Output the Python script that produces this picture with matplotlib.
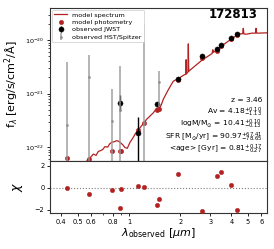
import numpy as np
import matplotlib
matplotlib.use("Agg")
import matplotlib.pyplot as plt
from matplotlib.ticker import FixedLocator, FixedFormatter, NullFormatter

# ---------------- data ----------------
# model spectrum (observed wavelength in micron, f_lambda)
spec_wave = [0.50, 0.568, 0.59, 0.617, 0.64, 0.66, 0.675, 0.70, 0.722, 0.75, 0.77, 0.791, 0.82,
             0.846, 0.87, 0.885, 0.92, 0.947, 0.977, 1.014, 1.05, 1.085, 1.16, 1.27, 1.39,
             1.45, 1.52, 1.55, 1.59, 1.70, 1.82, 1.95, 2.11, 2.160, 2.168, 2.176, 2.22,
             2.233, 2.245, 2.285, 2.70, 3.08, 3.11, 3.14, 3.43, 4.0, 4.40, 4.66, 4.70, 4.74,
             4.92, 5.29, 5.55, 5.59, 5.63, 5.76, 6.6]
spec_flux = [2.0e-23, 5.75e-23, 6.3e-23, 7.4e-23, 7.0e-23, 8.3e-23, 8.5e-23, 9.0e-23, 1.02e-22,
             1.0e-22, 1.15e-22, 1.23e-22, 1.26e-22, 1.32e-22, 1.28e-22, 1.23e-22, 1.10e-22,
             9.8e-23, 9.5e-23, 1.23e-22, 1.45e-22, 1.74e-22, 2.29e-22, 3.31e-22, 4.37e-22,
             5.3e-22, 5.5e-22, 6.2e-22, 7.8e-22, 1.17e-21, 1.70e-21, 1.91e-21, 2.24e-21,
             2.3e-21, 4.3e-21, 2.35e-21, 2.5e-21, 8.5e-21, 2.6e-21, 2.75e-21, 4.27e-21,
             5.6e-21, 6.6e-21, 5.9e-21, 7.4e-21, 1.05e-20, 1.29e-20, 1.32e-20, 1.66e-20,
             1.3e-20, 1.29e-20, 1.35e-20, 1.35e-20, 1.66e-20, 1.35e-20, 1.35e-20, 1.37e-20]

# model photometry and residuals (per band)
phot_wave = [0.43, 0.58, 0.79, 0.895, 0.885, 1.13, 1.23, 1.47, 1.51, 1.95, 2.70, 3.31, 3.48, 4.0, 4.3]
phot_flux = [6.2e-23, 5.9e-23, 8.5e-23, 8.5e-23, 8.5e-23, 2.1e-22, 2.88e-22, 5.0e-22, 5.25e-22,
             1.78e-21, 4.68e-21, 6.3e-21, 7.6e-21, 1.07e-20, 1.23e-20]
chi = [-0.03, -0.55, -0.2, -0.12, -1.85, 0.15, 0.03, -1.55, -1.03, 1.27, -2.15, 1.06, 1.4, 0.2, -2.0]

# observed JWST
jwst_wave = [0.89, 1.13, 1.47, 1.95, 2.70, 3.31, 3.48, 4.0, 4.3]
jwst_flux = [6.76e-22, 1.86e-22, 6.46e-22, 1.86e-21, 5.13e-21, 6.76e-21, 8.13e-21, 1.10e-20, 1.32e-20]
jwst_lo = [4.68e-22, 1.0e-23, 6.2e-22, 1.80e-21, 4.98e-21, 6.56e-21, 7.9e-21, 1.07e-20, 1.28e-20]
jwst_hi = [9.55e-22, 3.63e-22, 6.7e-22, 1.92e-21, 5.28e-21, 6.96e-21, 8.36e-21, 1.13e-20, 1.36e-20]

# observed HST/Spitzer
hst_wave = [0.43, 0.58, 0.79, 0.89, 1.23, 1.51]
hst_flux = [2.57e-22, 2.0e-21, 3.09e-22, 5.0e-22, 2.88e-22, 1.62e-21]
hst_lo = [1.0e-23, 1.0e-23, 1.0e-23, 1.0e-23, 1.0e-23, 5.62e-22]
hst_hi = [3.89e-21, 5.25e-21, 1.23e-21, 3.24e-21, 2.04e-20, 2.69e-21]

obj_id = "172813"
info_lines = [r"z = 3.46",
              r"Av = 4.18$^{+0.10}_{-1.13}$",
              r"logM/M$_{\odot}$ = 10.41$^{+0.10}_{-0.13}$",
              r"SFR [M$_{\odot}$/yr] = 90.97$^{+67.41}_{-78.65}$",
              r"<age> [Gyr] = 0.81$^{+0.17}_{-0.27}$"]

xticks = [0.4, 0.5, 0.6, 0.8, 1, 2, 3, 4, 5, 6]
xticklabels = ["0.4", "0.5", "0.6", "0.8", "1", "2", "3", "4", "5", "6"]
yticks = [1e-22, 1e-21, 1e-20]
yticklabels = [r"$10^{-22}$", r"$10^{-21}$", r"$10^{-20}$"]
yminor = [k * 10.0 ** e for e in (-23, -22, -21, -20) for k in range(2, 10)
          if 10 ** -22.26 < k * 10.0 ** e < 10 ** -19.4]

# ---------------- plot ----------------
red = "#b22222"
fig = plt.figure(figsize=(2.74, 2.49), dpi=100)
L, R = 50 / 274, 267 / 274
ax = fig.add_axes([L, 1 - 161 / 249, R - L, (161 - 8) / 249])
axr = fig.add_axes([L, 1 - 213 / 249, R - L, (213 - 161) / 249], sharex=ax)

ax.plot(spec_wave, spec_flux, color=red, lw=0.9, label="model spectrum", zorder=2)
ax.plot(phot_wave, phot_flux, 'o', color=red, ms=3.2, mew=0.3, label="model photometry", zorder=3)
ax.errorbar(jwst_wave, jwst_flux,
            yerr=[np.array(jwst_flux) - np.array(jwst_lo), np.array(jwst_hi) - np.array(jwst_flux)],
            fmt='o', color='black', ms=3.7, mew=0.3, elinewidth=1.0, capsize=0,
            label="observed JWST", zorder=4)
ax.errorbar(hst_wave, hst_flux,
            yerr=[np.array(hst_flux) - np.array(hst_lo), np.array(hst_hi) - np.array(hst_flux)],
            fmt='o', color='#888888', ms=1.6, mew=0.3, ecolor='#999999', elinewidth=1.2, alpha=0.85,
            capsize=0, label="observed HST/Spitzer", zorder=5)

ax.set_xscale('log')
ax.set_yscale('log')
ax.set_xlim(0.343, 6.48)
ax.set_ylim(10 ** -22.26, 10 ** -19.4)
ax.set_ylabel(r"f$_{\lambda}$ [erg/s/cm$^2$/Å]", fontsize=8, labelpad=3)
ax.yaxis.set_major_locator(FixedLocator(yticks))
ax.yaxis.set_major_formatter(FixedFormatter(yticklabels))
ax.yaxis.set_minor_locator(FixedLocator(yminor))
ax.yaxis.set_minor_formatter(NullFormatter())
ax.tick_params(axis='y', labelsize=4.6, length=2.5, width=0.6, pad=1.5)
ax.tick_params(axis='y', which='minor', length=1.5, width=0.5)
ax.tick_params(axis='x', which='both', labelbottom=False, length=0)

leg = ax.legend(loc='upper left', fontsize=4.6, labelspacing=0.3, handlelength=2.0,
                borderpad=0.4, borderaxespad=0.25, handletextpad=0.8, framealpha=1,
                edgecolor='#cccccc', fancybox=True)
leg.get_frame().set_linewidth(0.5)

ax.text(0.958, 0.958, obj_id, transform=ax.transAxes, ha='right', va='center',
        fontsize=8.5, fontweight='bold')
ys = [0.399, 0.320, 0.238, 0.155, 0.077]
for t, yy in zip(info_lines, ys):
    ax.text(0.977, yy, t, transform=ax.transAxes, ha='right', va='center', fontsize=5.4)

axr.axhline(0, color='gray', ls=':', lw=0.8, zorder=1)
axr.plot(phot_wave, chi, 'o', color=red, ms=3.2, mew=0.3, zorder=3)
axr.set_ylim(-2.3, 2.42)
axr.set_yticks([-2, 0, 2])
axr.set_ylabel(r"$\chi$", fontsize=9, labelpad=7)
axr.set_xlabel(r"$\lambda_{\rm observed}$ [$\mu m$]", fontsize=8, labelpad=1)
axr.xaxis.set_major_locator(FixedLocator(xticks))
axr.xaxis.set_major_formatter(FixedFormatter(xticklabels))
axr.xaxis.set_minor_locator(FixedLocator([0.7, 0.9]))
axr.xaxis.set_minor_formatter(NullFormatter())
axr.tick_params(axis='both', labelsize=4.8, length=2.5, width=0.6, pad=1.5)
axr.tick_params(axis='x', which='minor', length=1.5, width=0.5)

for a in (ax, axr):
    for s in a.spines.values():
        s.set_linewidth(0.8)
        s.set_color('#333333')

fig.savefig("out.png", dpi=100)
